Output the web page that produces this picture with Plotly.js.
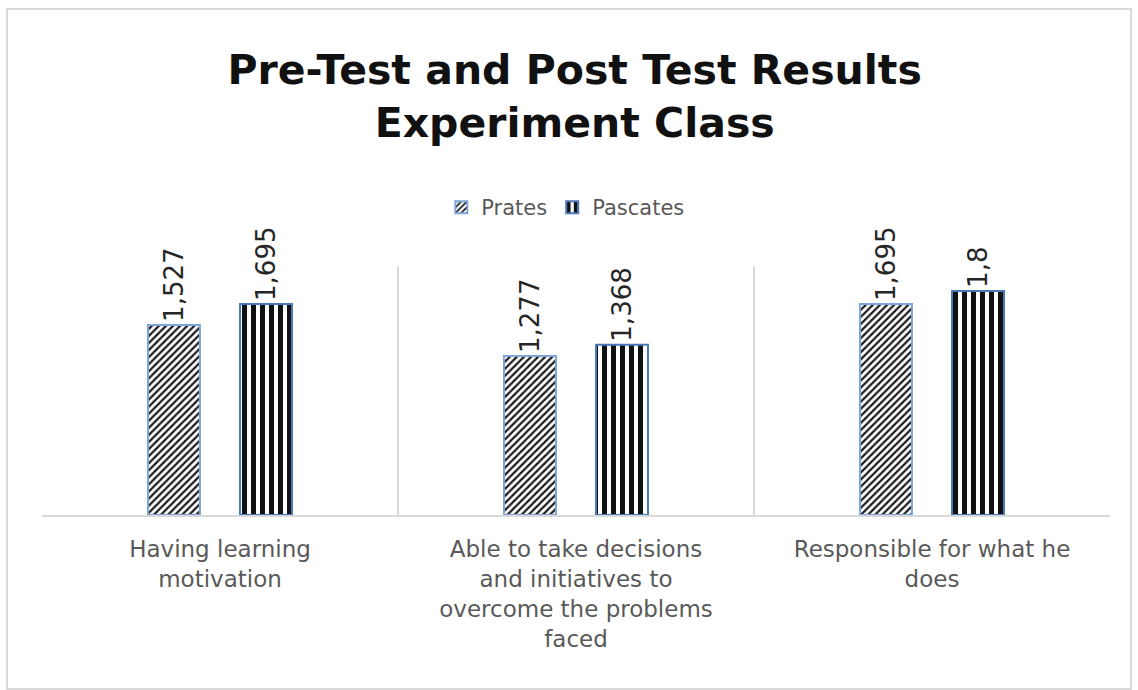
<!DOCTYPE html>
<html>
<head>
<meta charset="utf-8">
<script src="https://cdn.plot.ly/plotly-3.0.1.min.js"></script>
<style>
  body { margin: 0; background: #fff; }
  #wrap { position: relative; width: 1138px; height: 690px; }
  #chart { width: 1138px; height: 690px; }
  #frame { position: absolute; left: 6px; top: 8px; width: 1122px; height: 678px;
           border: 2px solid #d9d9d9; pointer-events: none; }
</style>
</head>
<body>
<div id="wrap"><div id="chart"></div><div id="frame"></div></div>
<script>
const categories = [
  "Having learning<br>motivation",
  "Able to take decisions<br>and initiatives to<br>overcome the problems<br>faced",
  "Responsible for what he<br>does"
];
const seriesNames = ["Prates", "Pascates"];
const pratesValues = [1.527, 1.277, 1.695];
const pascatesValues = [1.695, 1.368, 1.8];
const pratesLabels = ["1,527", "1,277", "1,695"];
const pascatesLabels = ["1,695", "1,368", "1,8"];

const labelFont = { family: "DejaVu Sans", size: 26, color: "#262626" };
const common = {
  type: "bar",
  x: categories,
  textposition: "outside",
  textangle: -90,
  cliponaxis: false,
  constraintext: "none",
  textfont: labelFont,
  hoverinfo: "skip"
};
const traces = [
  Object.assign({}, common, {
    name: seriesNames[0],
    y: pratesValues,
    text: pratesLabels,
    marker: {
      color: "#ffffff",
      line: { color: "#7fa5d8", width: 2 },
      pattern: { shape: "/", fgcolor: "#1a1a1a", bgcolor: "#ffffff", size: 5, solidity: 0.45 }
    }
  }),
  Object.assign({}, common, {
    name: seriesNames[1],
    y: pascatesValues,
    text: pascatesLabels,
    marker: {
      color: "#ffffff",
      line: { color: "#4a78b8", width: 2 },
      pattern: { shape: "|", fgcolor: "#111111", bgcolor: "#ffffff", size: 9, solidity: 0.55 }
    }
  })
];

const layout = {
  width: 1138, height: 690,
  margin: { l: 42, r: 28, t: 266, b: 175 },
  paper_bgcolor: "#ffffff",
  plot_bgcolor: "#ffffff",
  barmode: "group",
  bargap: 0.483,
  bargroupgap: 0.435,
  title: {
    text: "<b>Pre-Test and Post Test Results<br>Experiment Class</b>",
    font: { family: "DejaVu Sans", size: 41, color: "#111111" },
    x: 0.505, xanchor: "center",
    yref: "container",
    y: 0.878, yanchor: "top"
  },
  showlegend: true,
  legend: {
    orientation: "h",
    x: 0.49, xanchor: "center",
    y: 1.235, yanchor: "middle",
    font: { family: "DejaVu Sans", size: 21, color: "#595959" },
    itemwidth: 30,
    traceorder: "normal"
  },
  xaxis: {
    type: "category",
    tickson: "boundaries",
    showgrid: true,
    gridcolor: "#d9d9d9",
    gridwidth: 1.5,
    showline: true,
    linecolor: "#d9d9d9",
    linewidth: 1.5,
    ticks: "",
    ticklabelstandoff: 13,
    tickfont: { family: "DejaVu Sans", size: 23, color: "#595959" },
    fixedrange: true
  },
  yaxis: {
    range: [0, 2],
    showgrid: false,
    zeroline: false,
    showline: false,
    showticklabels: false,
    ticks: "",
    fixedrange: true
  }
};

Plotly.newPlot("chart", traces, layout, { displayModeBar: false, staticPlot: true });
</script>
</body>
</html>
